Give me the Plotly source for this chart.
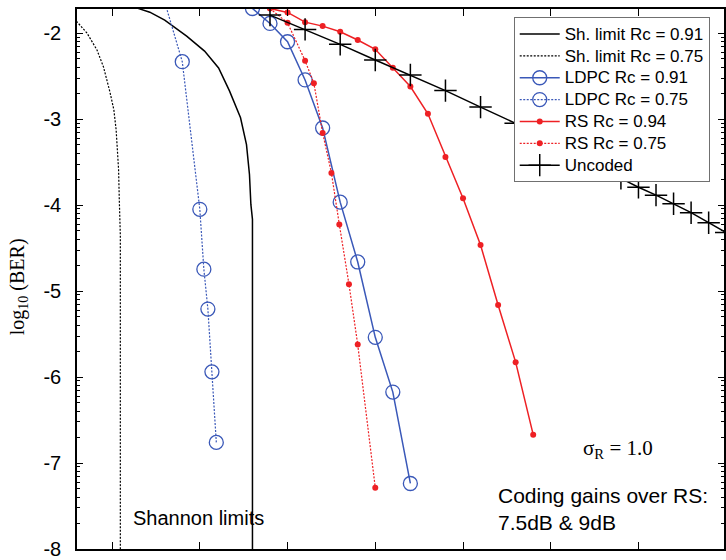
import numpy as np
import plotly.graph_objects as go

# Eb/N0 in dB and log10(BER) for every curve
snr_sh91 = [6.3, 6.52, 7.15, 8.0, 9.25, 10.27, 11.07, 11.69, 12.32, 12.66, 12.83, 12.91, 13.0, 13.0]
logber_sh91 = [-1.69, -1.716, -1.757, -1.849, -2.035, -2.209, -2.406, -2.672, -2.985, -3.298,
               -3.645, -3.993, -4.167, -8.5]

snr_sh75 = [2.7, 3.0, 3.57, 4.14, 4.51, 4.875, 5.10, 5.23, 5.31, 5.37, 5.41, 5.47, 5.47]
logber_sh75 = [-1.80, -1.873, -2.0, -2.197, -2.394, -2.684, -2.892, -3.124, -3.356, -3.588,
               -3.935, -4.352, -8.5]

snr_ldpc91 = [13, 14, 15, 16, 17, 18, 19, 20, 21, 22]
logber_ldpc91 = [-1.714, -1.888, -2.101, -2.545, -3.104, -3.966, -4.662, -5.538, -6.175, -7.238]

snr_ldpc75 = [7.8, 9.0, 10.0, 10.23, 10.46, 10.69, 10.94]
logber_ldpc75 = [-1.5, -2.333, -4.05, -4.746, -5.21, -5.94, -6.76]

snr_rs94 = [14, 15, 16, 17, 18, 19, 20, 21, 22, 23, 24, 25, 26, 27, 28, 29]
logber_rs94 = [-1.714, -1.760, -1.873, -1.919, -1.985, -2.081, -2.189, -2.402, -2.622, -2.939,
               -3.440, -3.920, -4.465, -5.163, -5.827, -6.670]

snr_rs75 = [14, 15, 16, 16.5, 17, 17.5, 17.95, 18.5, 19, 20]
logber_rs75 = [-1.714, -1.881, -2.321, -2.583, -3.162, -3.626, -4.225, -4.920, -5.623, -7.287]

snr_unc = [14, 16, 18, 20, 22, 24, 26, 28, 30, 32, 34, 35, 36, 37, 38, 39, 40]
logber_unc = [-1.791, -1.957, -2.131, -2.313, -2.487, -2.669, -2.861, -3.05, -3.26, -3.47,
              -3.69, -3.793, -3.885, -3.985, -4.089, -4.205, -4.32]

y_major = [-8, -7, -6, -5, -4, -3, -2]
y_major_text = ["-8", "-7", "-6", "-5", "-4", "-3", "-2"]

BLUE = "#3a58b8"
RED = "#ee2024"
SANS = "Arial, Liberation Sans, sans-serif"
SERIF = "Times New Roman, Liberation Serif, serif"
FINE_DOT = "2px,1.5px"
LEG = '<span style="font-size:17px">{}</span>'

fig = go.Figure()

fig.add_trace(go.Scatter(x=snr_sh91, y=logber_sh91, mode="lines",
                         name=LEG.format("Sh. limit Rc = 0.91"),
                         line=dict(color="black", width=1.5)))
fig.add_trace(go.Scatter(x=snr_sh75, y=logber_sh75, mode="lines",
                         name=LEG.format("Sh. limit Rc = 0.75"),
                         line=dict(color="black", width=1.2, dash=FINE_DOT)))
fig.add_trace(go.Scatter(x=snr_ldpc91, y=logber_ldpc91, mode="lines+markers",
                         name=LEG.format("LDPC Rc = 0.91"),
                         line=dict(color=BLUE, width=1.5),
                         marker=dict(symbol="circle-open", size=14, color=BLUE,
                                     line=dict(width=1.3, color=BLUE))))
fig.add_trace(go.Scatter(x=snr_ldpc75, y=logber_ldpc75, mode="lines+markers",
                         name=LEG.format("LDPC Rc = 0.75"),
                         line=dict(color=BLUE, width=1.2, dash=FINE_DOT),
                         marker=dict(symbol="circle-open", size=14, color=BLUE,
                                     line=dict(width=1.3, color=BLUE))))
fig.add_trace(go.Scatter(x=snr_rs94, y=logber_rs94, mode="lines+markers",
                         name=LEG.format("RS Rc = 0.94"),
                         line=dict(color=RED, width=1.5),
                         marker=dict(symbol="circle", size=6, color=RED)))
fig.add_trace(go.Scatter(x=snr_rs75, y=logber_rs75, mode="lines+markers",
                         name=LEG.format("RS Rc = 0.75"),
                         line=dict(color=RED, width=1.2, dash=FINE_DOT),
                         marker=dict(symbol="circle", size=6, color=RED)))
fig.add_trace(go.Scatter(x=snr_unc, y=logber_unc, mode="lines+markers",
                         name=LEG.format("Uncoded"),
                         line=dict(color="black", width=1.5),
                         marker=dict(symbol="cross-thin", size=16, color="black",
                                     line=dict(width=1.5, color="black"))))

# minor ticks at log positions inside every decade of BER
y_minor = [n + np.log10(k) for n in range(-8, -1) for k in range(2, 10)]

fig.update_xaxes(range=[3, 39.875], showgrid=False, zeroline=False,
                 showline=True, linecolor="black", linewidth=1.5, mirror="ticks",
                 ticks="inside", ticklen=7, tickwidth=1.3, tickcolor="black",
                 tick0=0, dtick=5, showticklabels=False)
fig.update_yaxes(range=[-8, -1.72], showgrid=False, zeroline=False,
                 showline=True, linecolor="black", linewidth=1.5, mirror="ticks",
                 ticks="inside", ticklen=6, tickwidth=1.3, tickcolor="black",
                 tickmode="array", tickvals=y_major, ticktext=y_major_text,
                 tickfont=dict(family=SANS, size=20, color="black"),
                 ticklabelstandoff=10, ticklabeloverflow="allow",
                 minor=dict(tickmode="array", tickvals=y_minor, ticks="inside",
                            ticklen=3, tickwidth=1, tickcolor="black", showgrid=False))

fig.add_annotation(text="log<sub>10</sub> (BER)", textangle=-90, xref="paper", yref="paper",
                   x=-0.091, y=0.485, xanchor="center", yanchor="middle", showarrow=False,
                   font=dict(family=SERIF, size=20, color="black"))
fig.add_annotation(text="Shannon limits", x=6.07, y=-7.64, xanchor="left", yanchor="middle",
                   showarrow=False, font=dict(family=SANS, size=20, color="black"))
fig.add_annotation(text="σ<sub>R</sub> = 1.0", x=31.75, y=-6.84, xanchor="left",
                   yanchor="middle", showarrow=False,
                   font=dict(family=SERIF, size=21, color="black"))
fig.add_annotation(text="Coding gains over RS:<br>7.5dB &amp; 9dB", x=26.86, y=-7.53,
                   xanchor="left", yanchor="middle", align="left", showarrow=False,
                   font=dict(family=SANS, size=21, color="black"))

fig.update_layout(
    width=726, height=560,
    margin=dict(l=77, r=0, t=9, b=9),
    paper_bgcolor="white", plot_bgcolor="white",
    showlegend=True,
    legend=dict(x=0.675, y=0.985, xanchor="left", yanchor="top",
                bgcolor="white", bordercolor="#707070", borderwidth=1,
                font=dict(family=SANS, size=14.5, color="black"),
                itemwidth=40, tracegroupgap=0),
)

fig.write_html("out.html")
